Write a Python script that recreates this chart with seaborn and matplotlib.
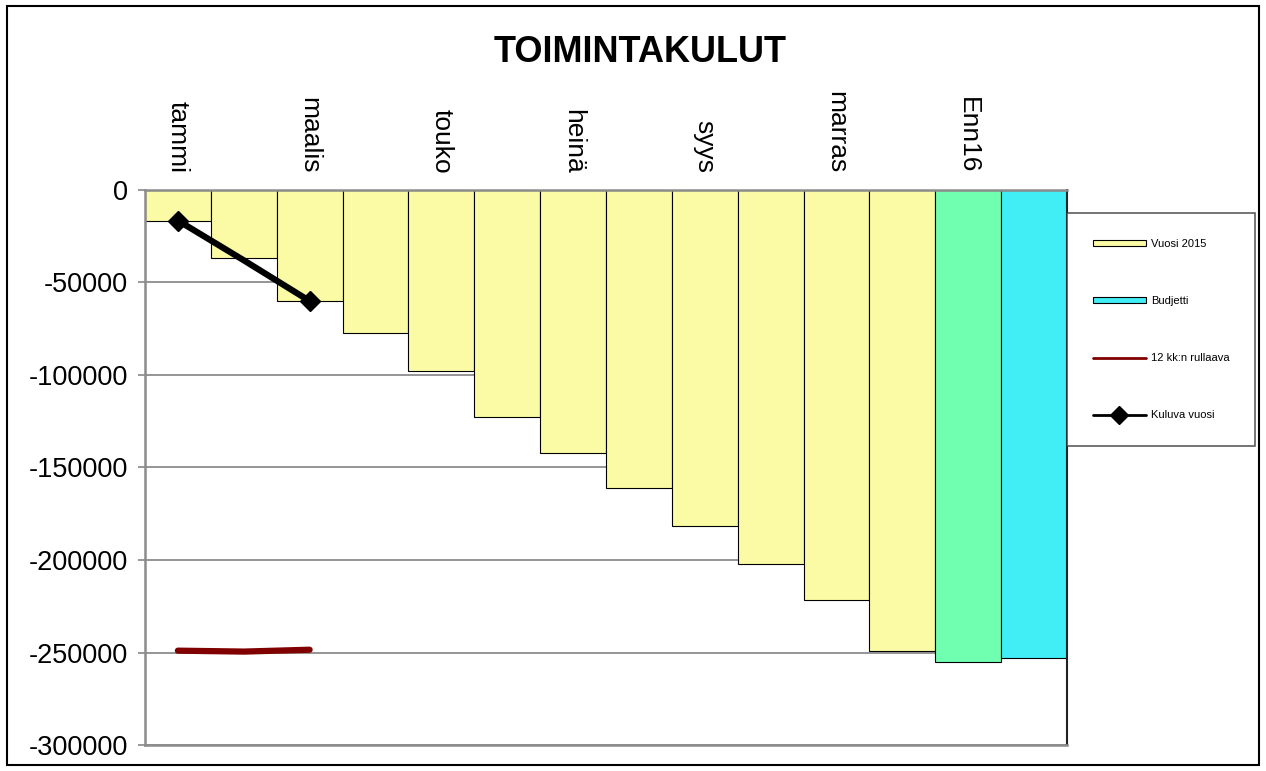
import numpy as np
import pandas as pd
import matplotlib
matplotlib.use("Agg")
import matplotlib.pyplot as plt
import seaborn as sns
from matplotlib.patches import Patch, Rectangle
from matplotlib.lines import Line2D

# data
months = ["tammi", "helmi", "maalis", "huhti", "touko", "kesä", "heinä",
          "elo", "syys", "loka", "marras", "joulu", "Enn16", "Bud16"]
vuosi_2015 = [-16500, -36500, -60000, -77300, -97800, -122700, -142200,
              -161100, -181600, -202200, -221600, -249200]
ennuste = -255100
budjetti = -253000
rullaava = [-249000, -249500, -248500]
kuluva = [-16500, -38000, -60000]

bar_values = vuosi_2015 + [ennuste, budjetti]
yellow = "#FBFBA6"
green = "#70FFB0"
cyan = "#42EEF6"
bar_colors = [yellow] * len(vuosi_2015) + [green, cyan]

sns.set_theme(style="white")
plt.rcParams["font.family"] = ["Liberation Sans", "DejaVu Sans"]
plt.rcParams["axes.unicode_minus"] = False
plt.rcParams["text.color"] = "black"
plt.rcParams["xtick.labelcolor"] = "black"
plt.rcParams["ytick.labelcolor"] = "black"

fig = plt.figure(figsize=(12.66, 7.71), dpi=100)
ax = fig.add_axes([0.1145, 0.0337, 0.7283, 0.7199])

df = pd.DataFrame({"kk": months, "arvo": bar_values})
sns.barplot(data=df, x="kk", y="arvo", hue="kk", palette=bar_colors,
            legend=False, width=1.0, edgecolor="black", linewidth=0.8,
            saturation=1, ax=ax, zorder=2)

ax.plot(np.arange(len(rullaava)), rullaava, color="#800000", lw=4.5,
        solid_capstyle="round", zorder=3)
ax.plot(np.arange(len(kuluva)), kuluva, color="black", lw=4.5, marker="D",
        markersize=10, markevery=[0, 2], zorder=4)

ax.set_ylim(-300000, 0)
ax.set_xlim(-0.5, len(months) - 0.5)
ax.set_yticks(np.arange(-300000, 1, 50000))
ax.set_yticklabels([str(v) for v in np.arange(-300000, 1, 50000)])
ax.yaxis.grid(True, color="#8c8c8c", lw=1.3, zorder=0)
ax.set_axisbelow(True)

ax.xaxis.tick_top()
ax.set_xticks(range(len(months)))
ax.set_xticklabels([m if i % 2 == 0 else "" for i, m in enumerate(months)],
                   rotation=270, fontsize=19)
ax.tick_params(axis="x", direction="in", length=4, color="#8c8c8c", pad=12)
ax.tick_params(axis="y", direction="out", length=5, color="#8c8c8c",
               labelsize=19.5, pad=7, left=True)
ax.set_xlabel("")
ax.set_ylabel("")

for side in ["left", "top", "bottom"]:
    ax.spines[side].set_color("#8c8c8c")
    ax.spines[side].set_linewidth(1.8)
ax.spines["right"].set_color("#222222")
ax.spines["right"].set_linewidth(1.5)

fig.text(0.506, 0.932, "TOIMINTAKULUT", ha="center", va="center",
         fontsize=26, fontweight="bold", color="black")

handles = [
    Patch(facecolor=yellow, edgecolor="black", linewidth=0.8),
    Patch(facecolor=cyan, edgecolor="black", linewidth=0.8),
    Line2D([], [], color="#800000", lw=2),
    Line2D([], [], color="black", lw=2, marker="D", markersize=9),
]
labels = ["Vuosi 2015", "Budjetti", "12 kk:n rullaava", "Kuluva vuosi"]
leg = fig.legend(handles, labels, loc="upper left",
                 bbox_to_anchor=(1067 / 1266, 1 - 213 / 771),
                 fontsize=8, frameon=True, fancybox=False,
                 handlelength=4.8, handleheight=0.45, handletextpad=0.45,
                 labelspacing=4.25, borderpad=2.3, borderaxespad=0)
leg.get_frame().set_edgecolor("#333333")
leg.get_frame().set_linewidth(1.2)

fig.patches.append(Rectangle((7 / 1266, 6 / 771), 1 - 14 / 1266, 1 - 12 / 771,
                             transform=fig.transFigure, fill=False,
                             edgecolor="black", linewidth=1.5))

fig.savefig("out.png", dpi=100)
